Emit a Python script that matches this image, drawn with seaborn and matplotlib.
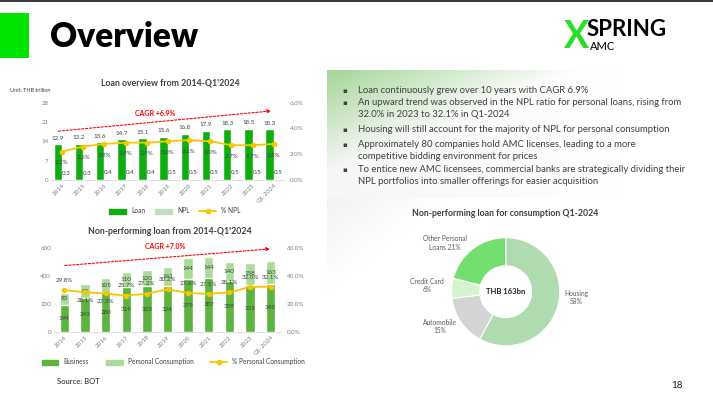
import numpy as np
import pandas as pd
import seaborn as sns
import matplotlib.pyplot as plt
from matplotlib.patches import Rectangle, Patch
from matplotlib.lines import Line2D
from matplotlib.ticker import FuncFormatter

# Data
years = ['2014', '2015', '2016', '2017', '2018', '2019', '2020', '2021', '2022', '2023', 'Q1-2024']
loan = [12.9, 13.2, 13.6, 14.7, 15.1, 15.6, 16.8, 17.9, 18.3, 18.5, 18.3]
npl = [0.3, 0.3, 0.4, 0.4, 0.4, 0.5, 0.5, 0.5, 0.5, 0.5, 0.5]
npl_pct = [2.2, 2.6, 2.8, 2.9, 2.9, 3.0, 3.1, 3.0, 2.7, 2.7, 2.8]

business = [194, 243, 280, 319, 323, 324, 379, 387, 359, 335, 343]
personal = [83, 95, 105, 110, 120, 141, 144, 144, 140, 158, 163]
personal_pct = [29.8, 28.1, 27.3, 25.7, 27.2, 30.2, 27.6, 27.1, 28.1, 32.0, 32.1]
pct_label_below = [False, True, True, False, False, False, False, False, False, False, False]

consumption_types = ['Housing\n', 'Automobile\n', 'Credit Card\n', 'Other Personal\nLoans ']
consumption_share = [58, 15, 6, 21]
# label placement around the donut, in units of the outer radius
donut_label_xy = [(1.31, -0.10), (-1.22, -0.64), (-1.45, 0.11), (-1.12, 0.90)]

bullets = [
    "Loan continuously grew over 10 years with CAGR 6.9%",
    "An upward trend was observed in the NPL ratio for personal loans, rising from\n32.0% in 2023 to 32.1% in Q1-2024",
    "Housing will still account for the majority of NPL for personal consumption",
    "Approximately 80 companies hold AMC licenses, leading to a more\ncompetitive bidding environment for prices",
    "To entice new AMC licensees, commercial banks are strategically dividing their\nNPL portfolios into smaller offerings for easier acquisition",
]

W, H = 713, 399
def fx(x):
    return x / W
def fy(y):
    return 1 - y / H

loan_c = '#0FAD0F'
npl_c = '#BEE0BE'
bus_c = '#5CB33F'
pers_c = '#A9DC98'
gold = '#F7C600'
txt_c = '#404040'
tick_c = '#7F7F7F'

sns.set_theme(style='white')
plt.rcParams['font.family'] = ['Lato', 'DejaVu Sans']

fig = plt.figure(figsize=(W / 100, H / 100), dpi=100)

# Header
fig.add_artist(Rectangle((0, fy(2)), 1, 2 / H, transform=fig.transFigure, color='#3a3a3a', lw=0))
fig.add_artist(Rectangle((0, fy(58)), fx(29), 45 / H, transform=fig.transFigure, color='#00E400', lw=0))
fig.text(fx(50), fy(37), 'Overview', fontsize=24, fontweight='heavy', color='black', va='center')
fig.text(fx(564), fy(37), 'X', fontsize=27, fontweight='bold', color='#27DD27', va='center')
fig.text(fx(587), fy(30), 'SPRING', fontsize=16, fontweight='bold', color='black', va='center')
fig.text(fx(590), fy(46), 'AMC', fontsize=8, color='black', va='center')

# Gradient panel behind bullets
bg = fig.add_axes([fx(327), fy(198), (683 - 327) / W, 128 / H])
u = np.linspace(0, 1, 300)[None, :]
v = np.linspace(0, 1, 120)[:, None]
g = np.clip(1 - (u / 0.7 + v / 0.8), 0, 1)
green = np.array([0.68, 0.87, 0.63])
img = 1 - g[..., None] * (1 - green)
img = np.clip(img - (np.clip(1 - u * 1.2, 0, 1) * 0.035)[..., None], 0, 1)
bg.imshow(img, aspect='auto')
bg.axis('off')

bg2 = fig.add_axes([fx(327), fy(300), 130 / W, 102 / H])
u2 = np.linspace(0, 1, 100)[None, :]
v2 = np.linspace(0, 1, 100)[:, None]
g2 = np.clip(1 - (u2 / 0.9 + v2 / 0.9), 0, 1) * 0.05
bg2.imshow(np.repeat((1 - g2)[..., None], 3, axis=2), aspect='auto', vmin=0, vmax=1)
bg2.axis('off')

bullet_y = [91, 103, 130, 145, 170]
for y, t in zip(bullet_y, bullets):
    fig.text(fx(342), fy(y), '▪', fontsize=5, color=txt_c, va='center', family=['DejaVu Sans'])
    fig.text(fx(358), fy(y - 4.6), t, fontsize=6.8, color=txt_c, va='top', linespacing=1.4)

# Chart 1: loan overview
fig.text(fx(170), fy(83), "Loan overview from 2014-Q1'2024", fontsize=6.3, fontweight='bold',
         color=txt_c, ha='center', va='center')
fig.text(fx(10), fy(91), 'Unit: THB trillion', fontsize=4, color=txt_c, va='center')

n = len(years)
df_loan = pd.DataFrame({'Year': years * 2, 'Value': loan + npl,
                        'Series': ['Loan'] * n + ['NPL'] * n})
ax1 = fig.add_axes([fx(51.4), fy(180), 233 / W, 77.3 / H])
sns.barplot(data=df_loan, x='Year', y='Value', hue='Series', palette=[loan_c, npl_c],
            width=0.8, saturation=1, ax=ax1, legend=False)
for c in ax1.containers:
    ax1.bar_label(c, fmt='%.1f', padding=2.5, fontsize=4.5, color=txt_c)
ax1.set_ylim(0, 28)
ax1.set_yticks([0, 7, 14, 21, 28])

ax1b = ax1.twinx()
sns.pointplot(x=years, y=npl_pct, color=gold, markersize=3, linewidth=1.3, errorbar=None, ax=ax1b)
for i, val in enumerate(npl_pct):
    ax1b.annotate(f'{val:.1f}%', (i, val), xytext=(0, -8), textcoords='offset points',
                  ha='center', va='center', fontsize=4.5, color=txt_c)
ax1b.set_ylim(0, 6)
ax1b.set_yticks([0, 2, 4, 6])
ax1b.yaxis.set_major_formatter(FuncFormatter(lambda x, p: f'{x:.1f}%'))
ax1b.annotate('', xy=(10.0, 25.1), xytext=(-0.3, 17.6), xycoords=ax1.transData,
              arrowprops=dict(arrowstyle='-|>', color='red', lw=0.8, linestyle=(0, (2, 1.5)),
                              mutation_scale=5))
ax1.text(4.4, 24.0, 'CAGR +6.9%', color='red', fontsize=5, fontweight='bold', ha='center', va='center')
ax1.legend(handles=[Patch(color=loan_c, label='Loan'), Patch(color=npl_c, label='NPL'),
                    Line2D([0], [0], color=gold, marker='o', ms=3, lw=1.3, label='% NPL')],
           loc='center', bbox_to_anchor=(0.53, -0.40), ncol=3, frameon=False, fontsize=4.8,
           handlelength=2.5, handleheight=0.8, columnspacing=1.5, labelcolor=txt_c)

# Chart 2: non-performing loan
fig.text(fx(170), fy(231), "Non-performing loan from 2014-Q1'2024", fontsize=6.3, fontweight='bold',
         color=txt_c, ha='center', va='center')
totals = [b + p for b, p in zip(business, personal)]
ax2 = fig.add_axes([fx(54), fy(331.7), 227 / W, 84 / H])
sns.barplot(x=years, y=totals, color=pers_c, width=0.45, saturation=1, ax=ax2)
sns.barplot(x=years, y=business, color=bus_c, width=0.45, saturation=1, ax=ax2)
ax2.bar_label(ax2.containers[1], label_type='center', fontsize=4.5, color=txt_c)
for i, (b, p) in enumerate(zip(business, personal)):
    ax2.text(i, b + p / 2, str(p), ha='center', va='center', fontsize=4.5, color=txt_c)
ax2.set_ylim(0, 600)
ax2.set_yticks([0, 200, 400, 600])

ax2b = ax2.twinx()
sns.pointplot(x=years, y=personal_pct, color=gold, markersize=3, linewidth=1.3, errorbar=None, ax=ax2b)
for i, (val, below) in enumerate(zip(personal_pct, pct_label_below)):
    ax2b.annotate(f'{val:.1f}%', (i, val), xytext=(0, -6 if below else 7), textcoords='offset points',
                  ha='center', va='center', fontsize=4.5, color=txt_c)
ax2b.set_ylim(0, 60)
ax2b.set_yticks([0, 20, 40, 60])
ax2b.yaxis.set_major_formatter(FuncFormatter(lambda x, p: f'{x:.1f}%'))
ax2b.annotate('', xy=(10.1, 593), xytext=(-0.1, 471), xycoords=ax2.transData,
              arrowprops=dict(arrowstyle='-|>', color='red', lw=0.8, linestyle=(0, (2, 1.5)),
                              mutation_scale=5))
ax2.text(4.9, 612, 'CAGR +7.0%', color='red', fontsize=5, fontweight='bold', ha='center', va='center')
ax2.legend(handles=[Patch(color=bus_c, label='Business'),
                    Patch(color=pers_c, label='Personal Consumption'),
                    Line2D([0], [0], color=gold, marker='o', ms=3, lw=1.3, label='% Personal Consumption')],
           loc='center', bbox_to_anchor=(0.526, -0.36), ncol=3, frameon=False, fontsize=4.8,
           handlelength=2.5, handleheight=0.8, columnspacing=2.5, labelcolor=txt_c)

for a, b in [(ax1, ax1b), (ax2, ax2b)]:
    for s in ['top', 'right', 'left']:
        a.spines[s].set_visible(False)
    a.spines['bottom'].set_color('#D9D9D9')
    a.spines['bottom'].set_linewidth(0.6)
    for s in b.spines.values():
        s.set_visible(False)
    a.set_xlabel('')
    a.set_ylabel('')
    b.set_ylabel('')
    a.tick_params(axis='both', length=0, labelsize=4.5, colors=tick_c, pad=2)
    b.tick_params(axis='y', length=0, labelsize=4.5, colors=tick_c, pad=4)
    a.set_xlim(-0.5, len(years) - 0.5)
    for lbl in a.get_xticklabels():
        lbl.set_rotation(45)
        lbl.set_ha('right')
        lbl.set_rotation_mode('anchor')

# Donut
fig.text(fx(505), fy(214), 'Non-performing loan for consumption Q1-2024', fontsize=6.3,
         fontweight='bold', color=txt_c, ha='center', va='center')
axd = fig.add_axes([fx(505.7 - 100), fy(291.7 + 100), 200 / W, 200 / H])
donut_labels = [f'{t}{s}%' for t, s in zip(consumption_types, consumption_share)]
wedges, texts = axd.pie(consumption_share, labels=donut_labels,
                        colors=['#B0DAB0', '#D4D4D4', '#D4F4CF', '#74DF6E'],
                        startangle=90, counterclock=False, radius=1,
                        wedgeprops=dict(width=0.52, edgecolor='white', linewidth=0.8),
                        textprops=dict(fontsize=4.8, color='#595959'))
for t, xy in zip(texts, donut_label_xy):
    t.set_position(xy)
    t.set_ha('center')
    t.set_va('center')
    t.set_multialignment('center')
axd.set_xlim(-1.85, 1.85)
axd.set_ylim(-1.85, 1.85)
axd.text(0, 0, 'THB 163bn', ha='center', va='center', fontsize=5.5, fontweight='bold', color='#222222')

fig.text(fx(57), fy(381), 'Source: BOT', fontsize=5.5, color='#222222', va='center')
fig.text(fx(671), fy(385), '18', fontsize=7, color='#222222', va='center')

fig.savefig('out.png', dpi=100)
